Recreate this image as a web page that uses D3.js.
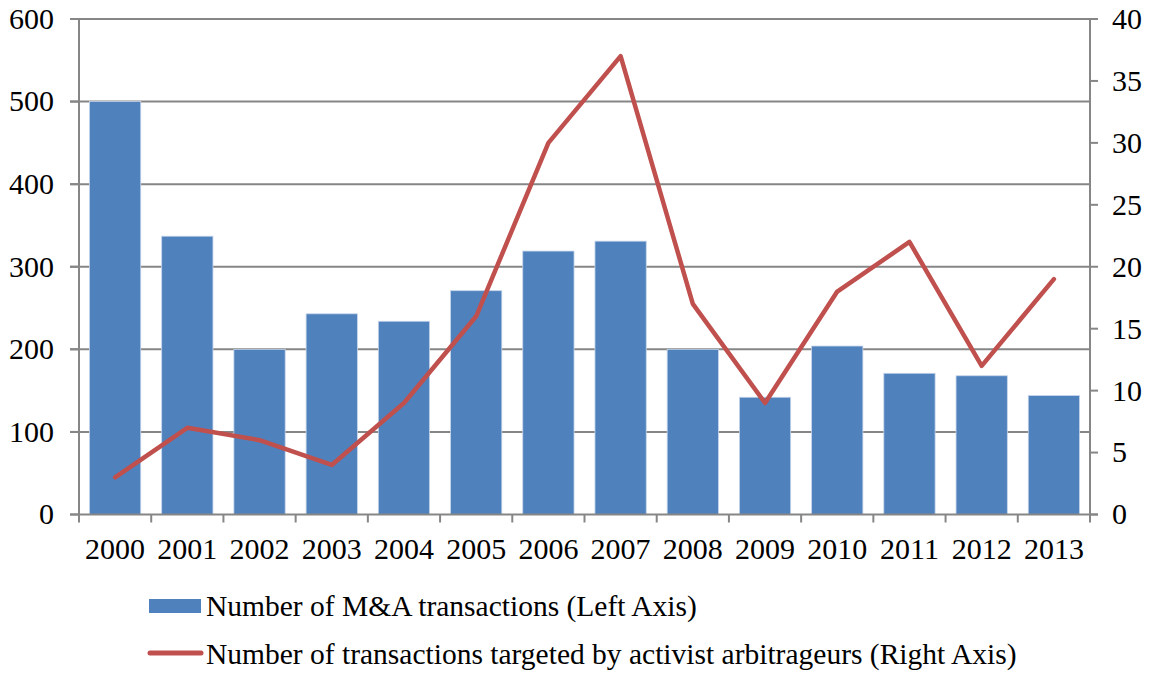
<!DOCTYPE html>
<html><head><meta charset="utf-8">
<script src="https://cdn.jsdelivr.net/npm/d3@7"></script>
<style>body{margin:0;background:#fff}svg{display:block}text{font-family:"Liberation Serif","Times New Roman",serif;fill:#000}</style>
</head><body><svg id="c" width="1153" height="673"></svg>
<script>
const years = ["2000","2001","2002","2003","2004","2005","2006","2007","2008","2009","2010","2011","2012","2013"];
const maTransactions = [500,337,200,243,234,271,319,331,200,142,204,171,168,144];
const activistTargets = [3,7,6,4,9,16,30,37,17,9,18,22,12,19];
const leftTicks = [0,100,200,300,400,500,600];
const rightTicks = [0,5,10,15,20,25,30,35,40];
const legendLabels = ["Number of M&A transactions (Left Axis)","Number of transactions targeted by activist arbitrageurs (Right Axis)"];

const svg = d3.select("#c");
const L=79, R=1090, T=19, B=514.5;
const x = d3.scaleBand().domain(years).range([L,R]).paddingInner(0.29).paddingOuter(0.145);
const xb = d3.scaleBand().domain(years).range([L,R]);
const yL = d3.scaleLinear().domain([0,600]).range([B,T]);
const yR = d3.scaleLinear().domain([0,40]).range([B,T]);
const grid="#868686";
const fs=30;

// gridlines
svg.append("g").selectAll("line").data(leftTicks.filter(d=>d>0)).join("line")
 .attr("x1",70).attr("x2",R).attr("y1",d=>yL(d)).attr("y2",d=>yL(d))
 .attr("stroke",grid).attr("stroke-width",2);

// bars
svg.append("g").selectAll("rect").data(years).join("rect")
 .attr("x",d=>x(d)).attr("width",x.bandwidth())
 .attr("y",(d,i)=>yL(maTransactions[i])).attr("height",(d,i)=>B-yL(maTransactions[i]))
 .attr("fill","#4F81BD").attr("stroke","#C6D5EA").attr("stroke-width",0.8);

// axes
const ax=svg.append("g").attr("stroke",grid).attr("stroke-width",2);
ax.append("line").attr("x1",L).attr("x2",L).attr("y1",T).attr("y2",B+8);
ax.append("line").attr("x1",R).attr("x2",R).attr("y1",T).attr("y2",B+8);
ax.append("line").attr("x1",70).attr("x2",R+8).attr("y1",B).attr("y2",B);
ax.selectAll(".tl").data(leftTicks).join("line").attr("x1",70).attr("x2",L).attr("y1",d=>yL(d)).attr("y2",d=>yL(d));
ax.selectAll(".tr").data(rightTicks).join("line").attr("x1",R).attr("x2",R+8).attr("y1",d=>yR(d)).attr("y2",d=>yR(d));
ax.selectAll(".tx").data(years.slice(1)).join("line").attr("x1",d=>xb(d)).attr("x2",d=>xb(d)).attr("y1",B).attr("y2",B+8);

svg.append("g").selectAll("text").data(leftTicks).join("text")
 .attr("x",54).attr("y",d=>yL(d)).attr("dy","0.33em").attr("text-anchor","end")
 .attr("font-size",fs).text(d=>d);
svg.append("g").selectAll("text").data(rightTicks).join("text")
 .attr("x",1112).attr("y",d=>yR(d)).attr("dy","0.33em").attr("text-anchor","start")
 .attr("font-size",fs).text(d=>d);
svg.append("g").selectAll("text").data(years).join("text")
 .attr("x",d=>xb(d)+xb.bandwidth()/2).attr("y",559).attr("text-anchor","middle")
 .attr("font-size",fs).text(d=>d);

// line
const line=d3.line().x((d,i)=>xb(years[i])+xb.bandwidth()/2).y(d=>yR(d));
svg.append("path").datum(activistTargets).attr("d",line).attr("fill","none")
 .attr("stroke","#C0504D").attr("stroke-width",4.5).attr("stroke-linejoin","round").attr("stroke-linecap","round");

// legend
const lg=svg.append("g");
lg.append("rect").attr("x",149).attr("y",599).attr("width",52).attr("height",14).attr("fill","#4F81BD");
lg.append("text").attr("x",206).attr("y",616).attr("font-size",29.5).text(legendLabels[0]);
lg.append("line").attr("x1",150).attr("x2",201).attr("y1",653).attr("y2",653).attr("stroke","#C0504D").attr("stroke-width",5).attr("stroke-linecap","round");
lg.append("text").attr("x",206).attr("y",664).attr("font-size",29.5).text(legendLabels[1]);
</script></body></html>
